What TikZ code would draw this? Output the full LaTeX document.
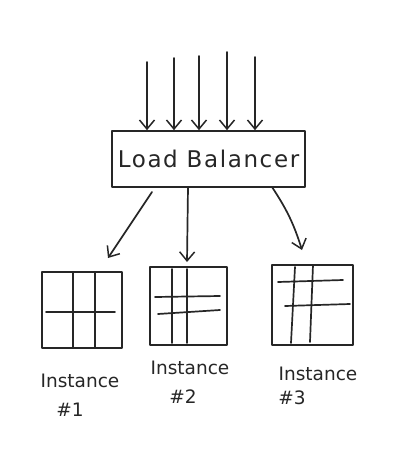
\documentclass[tikz,border=0pt]{standalone}
\usepackage{fontspec}
\setmainfont{DejaVu Sans}
\usetikzlibrary{arrows.meta}
\begin{document}
\begin{tikzpicture}[x=1pt,y=-1pt,
  ink/.style={line width=1.7pt,color=black!85,line cap=round,line join=round},
  arr/.style={ink,-{Straight Barb[length=9pt,width=15pt,line width=1.5pt]}},
  lbbox/.style={ink,draw,minimum width=193pt,minimum height=56pt,inner sep=0pt},
  inst/.style={ink,draw,inner sep=0pt},
  lbl/.style={font=\fontsize{18.5}{20}\selectfont,color=black!85,inner sep=0pt}]
\useasboundingbox (0,0) rectangle (402,461);
% load balancer
\node[lbbox] (lb) at (208.5,159) {\fontsize{23}{25}\selectfont\addfontfeature{LetterSpace=7}Load Balancer};
% incoming arrows
\coordinate (t1) at (147,62);
\coordinate (t2) at (174,58);
\coordinate (t3) at (199,56);
\coordinate (t4) at (227,52);
\coordinate (t5) at (255,57);
\foreach \t in {t1,t2,t3,t4,t5}
  \draw[arr] (\t) -- (\t |- lb.north);
% instances
\node[inst,minimum width=80pt,minimum height=76pt] (i1) at (82,310) {};
\node[inst,minimum width=77pt,minimum height=78pt] (i2) at (188.5,306) {};
\node[inst,minimum width=81pt,minimum height=80pt] (i3) at (312.5,305) {};
% grids
\draw[ink] (73,273) -- (73,348) (95,273) -- (95,348) (46,312) -- (115,312);
\draw[ink] (172,269) -- (172,343) (187,269) -- (187,343) (155,297) -- (220,296) (158,314) -- (220,310);
\draw[ink] (295,267) -- (291,343) (313,265) -- (310,342) (278,282) -- (343,280) (285,306) -- (350,304);
% outgoing arrows
\coordinate (b1) at (152,192);
\coordinate (b2) at (188,187);
\coordinate (b3) at (272,187);
\coordinate (e1) at (108,258);
\coordinate (e2) at (187,262);
\coordinate (e3) at (302,250);
\draw[arr] (b1) -- (e1);
\draw[arr] (b2) -- (e2);
\draw[arr] (b3) to[bend left=8] (e3);
% labels
\node[lbl] (l1a) at (80,381) {Instance};
\node[lbl] (l1b) at (70,410) {\#1};
\node[lbl] (l2a) at (190,368) {Instance};
\node[lbl] (l2b) at (183,397) {\#2};
\node[lbl] (l3a) at (318,374) {Instance};
\node[lbl] (l3b) at (292,398) {\#3};
\end{tikzpicture}
\end{document}
